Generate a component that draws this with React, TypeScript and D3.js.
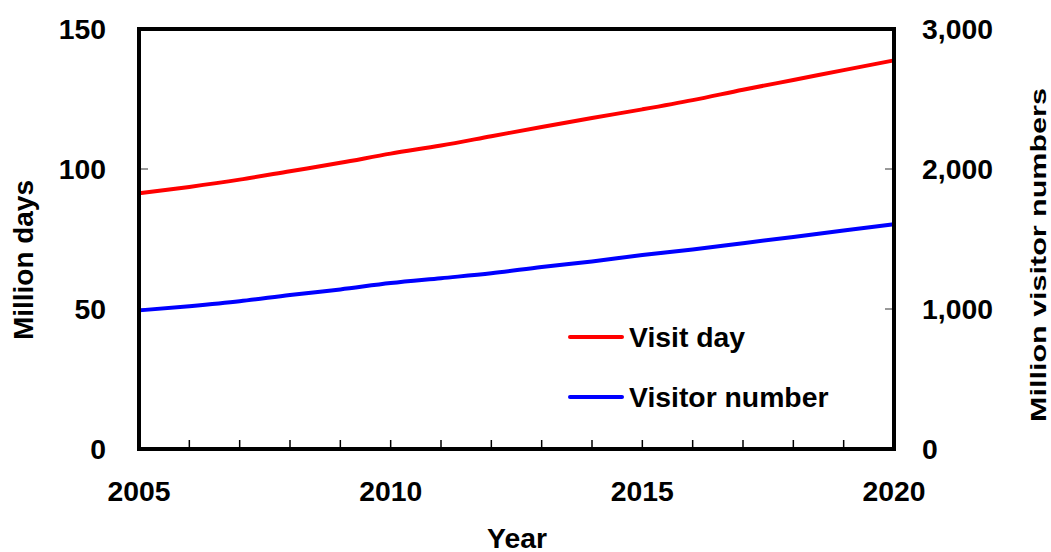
import React from "react";
import * as d3 from "d3";

const years = [2005, 2006, 2007, 2008, 2009, 2010, 2011, 2012, 2013, 2014, 2015, 2016, 2017, 2018, 2019, 2020];
const visitDays = [91.3, 93.6, 96.2, 99.2, 102.2, 105.5, 108.4, 111.7, 115.0, 118.2, 121.3, 124.6, 128.3, 131.8, 135.3, 138.8];
const visitorNumbers = [990, 1020, 1055, 1100, 1140, 1185, 1220, 1255, 1300, 1340, 1385, 1425, 1470, 1515, 1560, 1605];
const leftTicks = [0, 50, 100, 150];
const rightTicks = [0, 1000, 2000, 3000];
const xLabelTicks = [2005, 2010, 2015, 2020];
const seriesNames = ["Visit day", "Visitor number"];
const seriesColors = ["#ff0000", "#0000ff"];

const W = 1051, H = 552;
const L = 139, R = 894, T = 29, B = 449;
const FONT = "'Liberation Sans', Arial, sans-serif";
const FS = 27;

function Txt(props: { x: number; y: number; anchor?: string; sx?: number; sy?: number; rot?: number; dy?: string; children: React.ReactNode }) {
  const { x, y, anchor = "start", sx = 1.05, sy = 1, rot = 0, dy, children } = props;
  return (
    <text
      transform={`translate(${x},${y}) rotate(${rot}) scale(${sx},${sy})`}
      textAnchor={anchor}
      dy={dy}
      fontSize={FS}
      fontWeight="bold"
    >
      {children}
    </text>
  );
}

export default function App() {
  const x = d3.scaleLinear().domain([2005, 2020]).range([L, R]);
  const yL = d3.scaleLinear().domain([0, 150]).range([B, T]);
  const yR = d3.scaleLinear().domain([0, 3000]).range([B, T]);
  const fmt = d3.format(",");

  const redLine = d3.line<number>().x((_, i) => x(years[i])).y((d) => yL(d)).curve(d3.curveMonotoneX)(visitDays) || "";
  const blueLine = d3.line<number>().x((_, i) => x(years[i])).y((d) => yR(d)).curve(d3.curveMonotoneX)(visitorNumbers) || "";

  return (
    <svg width={W} height={H} style={{ position: "absolute", left: 0, top: 0, background: "#fff" }} fontFamily={FONT}>
      {years.slice(1, -1).map((yr) => (
        <line key={"xt" + yr} x1={x(yr)} x2={x(yr)} y1={B} y2={B - 9} stroke="#000" strokeWidth={1.5} />
      ))}
      {leftTicks.slice(1, -1).map((v) => (
        <line key={"lt" + v} x1={L} x2={L + 9} y1={yL(v)} y2={yL(v)} stroke="#555" strokeWidth={1.2} />
      ))}
      {rightTicks.slice(1, -1).map((v) => (
        <line key={"rt" + v} x1={R} x2={R - 9} y1={yR(v)} y2={yR(v)} stroke="#555" strokeWidth={1.2} />
      ))}
      <path d={redLine} fill="none" stroke={seriesColors[0]} strokeWidth={4} />
      <path d={blueLine} fill="none" stroke={seriesColors[1]} strokeWidth={4} />
      <rect x={L} y={T} width={R - L} height={B - T} fill="none" stroke="#000" strokeWidth={4} />
      {leftTicks.map((v) => (
        <Txt key={"ll" + v} x={106} y={yL(v)} dy="0.36em" anchor="end">{v}</Txt>
      ))}
      {rightTicks.map((v) => (
        <Txt key={"rl" + v} x={922} y={yR(v)} dy="0.36em">{fmt(v)}</Txt>
      ))}
      {xLabelTicks.map((v) => (
        <Txt key={"xl" + v} x={x(v)} y={501} anchor="middle">{v}</Txt>
      ))}
      <Txt x={517} y={548} anchor="middle">Year</Txt>
      <Txt x={33} y={260} anchor="middle" rot={-90} sx={1.035}>Million days</Txt>
      <Txt x={1046} y={255} anchor="middle" rot={-90} sx={1.13} sy={0.82}>Million visitor numbers</Txt>
      {seriesNames.map((name, i) => (
        <g key={name}>
          <line x1={570} x2={622} y1={337 + i * 60} y2={337 + i * 60} stroke={seriesColors[i]} strokeWidth={4} strokeLinecap="round" />
          <Txt x={629} y={337 + i * 60} dy="0.36em">{name}</Txt>
        </g>
      ))}
    </svg>
  );
}
